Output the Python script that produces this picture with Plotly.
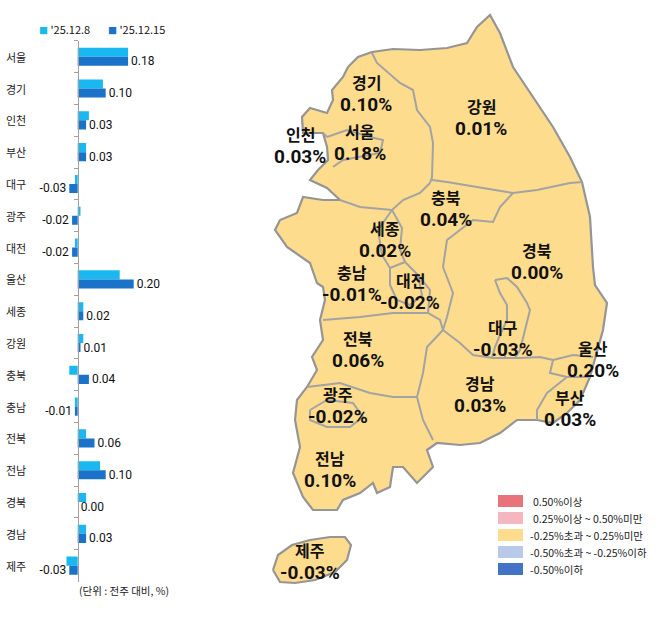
import plotly.graph_objects as go

# --- data -------------------------------------------------------------
regions = ["서울", "경기", "인천", "부산", "대구", "광주", "대전", "울산", "세종",
           "강원", "충북", "충남", "전북", "전남", "경북", "경남", "제주"]
prev_week = [0.18, 0.09, 0.04, 0.03, -0.01, 0.01, -0.01, 0.15, 0.02,
             0.02, -0.03, -0.01, 0.03, 0.08, 0.03, 0.03, -0.04]
this_week = [0.18, 0.10, 0.03, 0.03, -0.03, -0.02, -0.02, 0.20, 0.02,
             0.01, 0.04, -0.01, 0.06, 0.10, 0.00, 0.03, -0.03]
series_names = ["'25.12.8", "'25.12.15"]
series_colors = ["#1ab8f0", "#1a72c9"]

class_labels = ["0.50%이상", "0.25%이상 ~ 0.50%미만", "-0.25%초과 ~ 0.25%미만",
                "-0.50%초과 ~ -0.25%이하", "-0.50%이하"]
class_colors = ["#e8737b", "#f4b7bf", "#fddc8e", "#b9c9e9", "#4472c4"]

# --- map geometry (pixel space of the picture) -------------------------
mainland = [(348, 67), (358, 57), (372, 52), (393, 49), (420, 50), (447, 48), (467, 43),
            (477, 27), (490, 15), (500, 33), (513, 67), (533, 97), (553, 127), (570, 157),
            (582, 182), (590, 217), (593, 267), (595, 285), (607, 303), (603, 330),
            (593, 367), (590, 377), (580, 400), (567, 413), (553, 423), (537, 420),
            (517, 420), (500, 433), (480, 443), (460, 445), (437, 443), (427, 450),
            (433, 467), (417, 483), (403, 467), (393, 467), (390, 487), (377, 493),
            (373, 483), (360, 493), (343, 500), (337, 510), (313, 510), (303, 497),
            (293, 473), (300, 447), (295, 420), (297, 400), (307, 387), (317, 370),
            (312, 357), (323, 340), (320, 320), (325, 300), (323, 287), (317, 283),
            (310, 263), (287, 247), (275, 230), (280, 220), (297, 213), (303, 197),
            (323, 200), (340, 200), (327, 188), (310, 180), (318, 170), (328, 160),
            (327, 147), (323, 133), (303, 133), (302, 117), (310, 108), (327, 113),
            (333, 100), (332, 90), (343, 77), (348, 67)]
jeju = [(273, 570), (278, 555), (292, 545), (310, 540), (330, 537), (345, 537), (351, 545),
        (347, 560), (335, 572), (315, 580), (295, 583), (280, 582), (273, 570)]
borders = [
    [(372, 53), (377, 63), (400, 83), (413, 90), (417, 110), (430, 127), (433, 143), (432, 177), (430, 183)],
    [(430, 183), (420, 193), (403, 200), (392, 210), (360, 207), (340, 200)],
    [(432, 180), (447, 182), (477, 187), (513, 193), (537, 190), (570, 183), (582, 182)],
    [(513, 193), (500, 207), (493, 222), (473, 220), (460, 230), (447, 240), (443, 267),
     (447, 277), (453, 293), (447, 317), (443, 330)],
    [(392, 210), (378, 230), (382, 255), (390, 268)],
    [(392, 210), (402, 228), (400, 250), (405, 262)],
    [(390, 268), (405, 262), (418, 275), (422, 295), (410, 305), (397, 300), (390, 285), (390, 268)],
    [(418, 275), (430, 290), (428, 313)],
    [(323, 320), (360, 317), (393, 313), (428, 313), (440, 320), (443, 330)],
    [(443, 330), (427, 347), (423, 373), (417, 397)],
    [(307, 387), (340, 383), (370, 393), (393, 397), (417, 397)],
    [(417, 397), (423, 420), (433, 440)],
    [(310, 410), (327, 400), (353, 403), (363, 417), (350, 427), (327, 427), (310, 420), (310, 410)],
    [(443, 330), (460, 343), (473, 355), (493, 358), (520, 358), (540, 357), (553, 360)],
    [(553, 360), (573, 355), (593, 357)],
    [(553, 360), (550, 373), (567, 377), (590, 377)],
    [(567, 377), (547, 393), (537, 410), (537, 420)],
    [(495, 280), (507, 278), (517, 287), (527, 303), (530, 310), (527, 323), (523, 340),
     (520, 350), (515, 358)],
    [(495, 280), (500, 293), (507, 305), (507, 320), (500, 335), (495, 347), (492, 358)],
    [(505, 345), (505, 358)],
    [(327, 137), (347, 130), (370, 137), (383, 140), (380, 153), (360, 157), (343, 160),
     (333, 167)],
    [(323, 133), (327, 137)],
]
label_pos = {"경기": (366, 82), "인천": (300, 134), "서울": (360, 131), "강원": (481, 106),
             "충북": (446, 197), "세종": (385, 228), "경북": (537, 250), "충남": (352, 272),
             "대전": (410, 280), "전북": (358, 338), "대구": (503, 327), "울산": (593, 348),
             "경남": (480, 383), "부산": (570, 397), "광주": (338, 394), "전남": (330, 458),
             "제주": (310, 550)}

NUM = "Roboto, Noto Sans CJK KR, sans-serif"
KR = "Noto Sans CJK KR, sans-serif"

fig = go.Figure()

# bar chart
fig.add_trace(go.Bar(y=regions, x=prev_week, orientation="h", name=series_names[0],
                     marker=dict(color=series_colors[0], line=dict(width=0))))
fig.add_trace(go.Bar(y=regions, x=this_week, orientation="h", name=series_names[1],
                     marker=dict(color=series_colors[1], line=dict(width=0)),
                     text=this_week, texttemplate="%{x:.2f}", textposition="outside",
                     cliponaxis=False, constraintext="none",
                     textfont=dict(family=NUM, size=12, color="#111")))

# map
for poly in [mainland, jeju]:
    fig.add_trace(go.Scatter(x=[p[0] for p in poly], y=[p[1] for p in poly],
                             xaxis="x2", yaxis="y2", mode="lines", fill="toself",
                             fillcolor=class_colors[2],
                             line=dict(color="#959595", width=2.2),
                             hoverinfo="skip", showlegend=False))
for b in borders:
    fig.add_trace(go.Scatter(x=[p[0] for p in b], y=[p[1] for p in b],
                             xaxis="x2", yaxis="y2", mode="lines",
                             line=dict(color="#a3a3a3", width=2),
                             hoverinfo="skip", showlegend=False))

annotations = []
# series key
for i, (nm, col) in enumerate(zip(series_names, series_colors)):
    annotations.append(dict(x=[37, 106][i] / 658, y=1 - 19 / 623, xref="paper", yref="paper",
                            xanchor="left", showarrow=False,
                            text="<span style='color:%s;font-size:9px'>■</span> %s" % (col, nm),
                            font=dict(family=KR, size=11, color="#111")))
# category labels for bars
for r in regions:
    annotations.append(dict(x=0.006, y=r, xref="paper", yref="y", text=r,
                            showarrow=False, xanchor="left",
                            font=dict(family=KR, size=11, color="#222")))
# map labels
for r, v in zip(regions, this_week):
    px, py = label_pos[r]
    annotations.append(dict(x=px, y=py, xref="x2", yref="y2", text="<b>%s</b>" % r,
                            showarrow=False, font=dict(family=KR, size=16, color="#111")))
    annotations.append(dict(x=px, y=py + 22, xref="x2", yref="y2",
                            text="<b>%.2f%%</b>" % v, showarrow=False,
                            font=dict(family=NUM, size=19, color="#111")))

# colour class legend
shapes = []
for i, (lab, col) in enumerate(zip(class_labels, class_colors)):
    y0 = 495 + i * 17
    shapes.append(dict(type="rect", xref="x2", yref="y2", x0=498, x1=523, y0=y0, y1=y0 + 12,
                       fillcolor=col, line=dict(width=0)))
    annotations.append(dict(x=528 if lab.startswith("-") else 531, y=y0 + 6, xref="x2", yref="y2",
                            text=lab, showarrow=False, xanchor="left",
                            font=dict(family=KR, size=10.5, color="#222")))

annotations.append(dict(x=124 / 658, y=1 - 600 / 623, xref="paper", yref="paper",
                        xanchor="center", text="(단위 : 전주 대비, %)", showarrow=False,
                        font=dict(family=KR, size=10.5, color="#222")))

fig.update_layout(
    width=658, height=623,
    margin=dict(l=0, r=0, t=0, b=0),
    paper_bgcolor="white", plot_bgcolor="rgba(0,0,0,0)",
    barmode="group", bargap=0.43, bargroupgap=0,
    showlegend=False,
    xaxis=dict(domain=[0, 0.35], range=[-0.2775, 0.545], visible=False, fixedrange=True),
    yaxis=dict(type="category", autorange="reversed", domain=[0.0665, 0.9345],
               anchor="free", position=77.7 / 658, showline=True, linecolor="#a0a0a0",
               linewidth=1, ticks="outside", tickson="boundaries", ticklen=4,
               tickcolor="#a0a0a0", showticklabels=False, showgrid=False, zeroline=False),
    xaxis2=dict(domain=[250 / 658, 1], range=[250, 658], visible=False, anchor="y2"),
    yaxis2=dict(domain=[0, 1], range=[623, 0], visible=False, anchor="x2"),
    annotations=annotations, shapes=shapes,
)

fig.write_html("out.html", config={"displayModeBar": False},
               post_script="document.body.style.margin='0';")
